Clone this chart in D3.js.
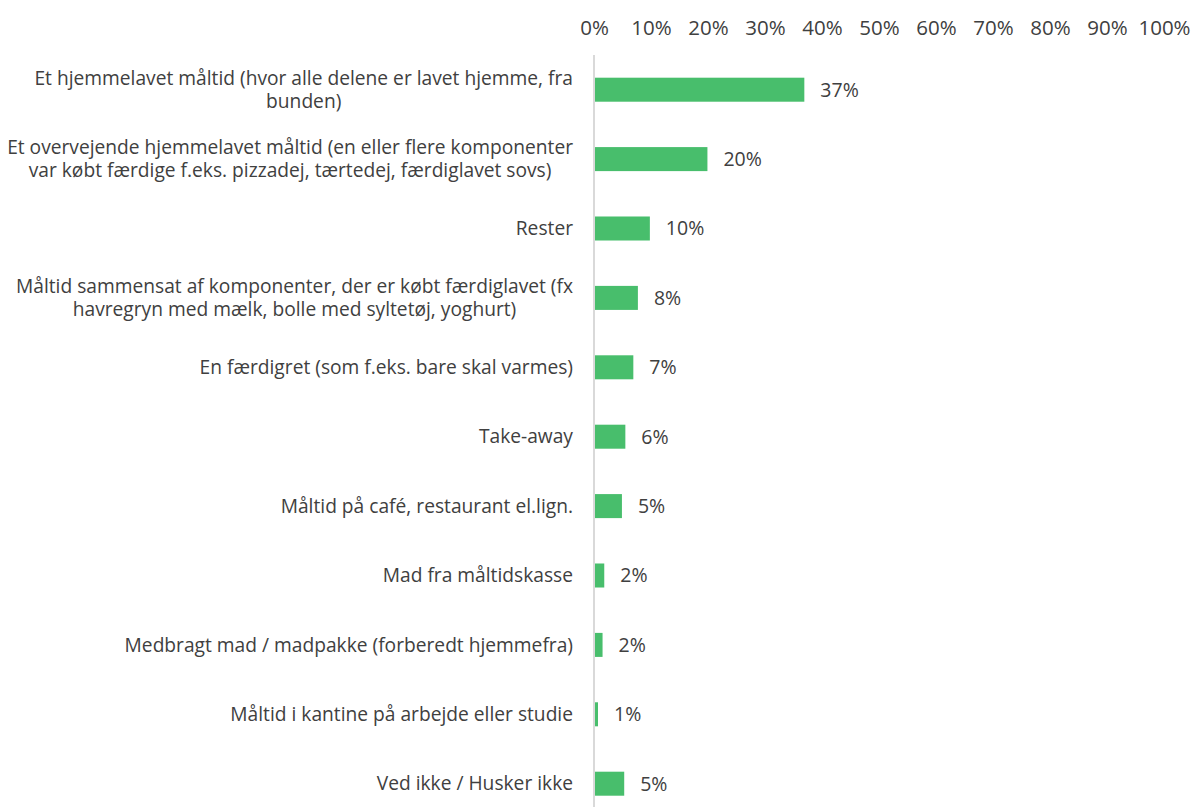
<!DOCTYPE html>
<html>
<head>
<meta charset="utf-8">
<script src="https://cdn.jsdelivr.net/npm/d3@7"></script>
<style>
  body { margin: 0; background: #fff; }
  text { font-family: "Open Sans", "Noto Sans", sans-serif; fill: #404040; }
</style>
</head>
<body>
<div id="chart"></div>
<script>
var width = 1193
var height = 807

// categories, one line per array entry
var categories = [
    ["Et hjemmelavet måltid (hvor alle delene er lavet hjemme, fra", "bunden)"],
    ["Et overvejende hjemmelavet måltid (en eller flere komponenter", "var købt færdige f.eks. pizzadej, tærtedej, færdiglavet sovs)"],
    ["Rester"],
    ["Måltid sammensat af komponenter, der er købt færdiglavet (fx", "havregryn med mælk, bolle med syltetøj, yoghurt)"],
    ["En færdigret (som f.eks. bare skal varmes)"],
    ["Take-away"],
    ["Måltid på café, restaurant el.lign."],
    ["Mad fra måltidskasse"],
    ["Medbragt mad / madpakke (forberedt hjemmefra)"],
    ["Måltid i kantine på arbejde eller studie"],
    ["Ved ikke / Husker ikke"]
]
var values = [36.9, 19.9, 9.8, 7.7, 6.9, 5.5, 4.9, 1.8, 1.5, 0.7, 5.3]
var ticks = [0, 10, 20, 30, 40, 50, 60, 70, 80, 90, 100]

var data = categories.map(function(c, i) {
    return {id: i, lines: c, value: values[i]}
})

var svg = d3.select("#chart")
    .append("svg")
    .attr("width", width)
    .attr("height", height)

var x = d3.scaleLinear().domain([0, 100]).range([594, 1164])
var y = d3.scaleBand()
    .domain(data.map(function(d) { return d.id }))
    .range([55, 818.4])
    .paddingInner(0.654)
    .paddingOuter(0.327)

// top axis, tick labels only
var xAxis = d3.axisTop(x)
    .tickValues(ticks)
    .tickSize(0)
    .tickFormat(function(d) { return d + "%" })

svg.append("g")
    .attr("transform", "translate(0,38)")
    .call(xAxis)
    .call(function(g) { g.select(".domain").remove() })
    .selectAll("text")
    .style("font-family", "'Open Sans', 'Noto Sans', sans-serif")
    .style("font-size", "20.5px")
    .attr("fill", "#404040")

// bars
svg.selectAll("rect.bar")
    .data(data)
    .enter().append("rect")
    .attr("class", "bar")
    .attr("x", x(0))
    .attr("y", function(d) { return y(d.id) })
    .attr("width", function(d) { return x(d.value) - x(0) })
    .attr("height", y.bandwidth())
    .attr("fill", "#48BE6C")

// vertical axis line
svg.append("line")
    .attr("x1", x(0)).attr("x2", x(0))
    .attr("y1", 55).attr("y2", height)
    .attr("stroke", "#d9d9d9")
    .attr("stroke-width", 2)

// value labels
svg.selectAll("text.val")
    .data(data)
    .enter().append("text")
    .attr("class", "val")
    .attr("x", function(d) { return x(d.value) + 16 })
    .attr("y", function(d) { return y(d.id) + y.bandwidth() / 2 })
    .attr("dy", "0.35em")
    .style("font-size", "19.5px")
    .text(function(d) { return Math.round(d.value) + "%" })

// category labels, wrapped lines centred on each other, block right aligned
var labelRight = 573
var lab = svg.selectAll("text.cat")
    .data(data)
    .enter().append("text")
    .attr("class", "cat")
    .attr("text-anchor", "middle")
    .style("font-size", "19.2px")
    .attr("transform", function(d) {
        return "translate(0," + (y(d.id) + y.bandwidth() / 2) + ")"
    })

lab.selectAll("tspan")
    .data(function(d) { return d.lines.map(function(l, i) { return {t: l, i: i, n: d.lines.length} }) })
    .enter().append("tspan")
    .attr("x", 0)
    .attr("y", function(d) { return (d.i - (d.n - 1) / 2) * 23 })
    .attr("dy", "0.35em")
    .text(function(d) { return d.t })

lab.each(function() {
    var maxW = 0
    d3.select(this).selectAll("tspan").each(function() {
        maxW = Math.max(maxW, this.getComputedTextLength())
    })
    d3.select(this).selectAll("tspan").attr("x", labelRight - maxW / 2)
})
</script>
</body>
</html>
